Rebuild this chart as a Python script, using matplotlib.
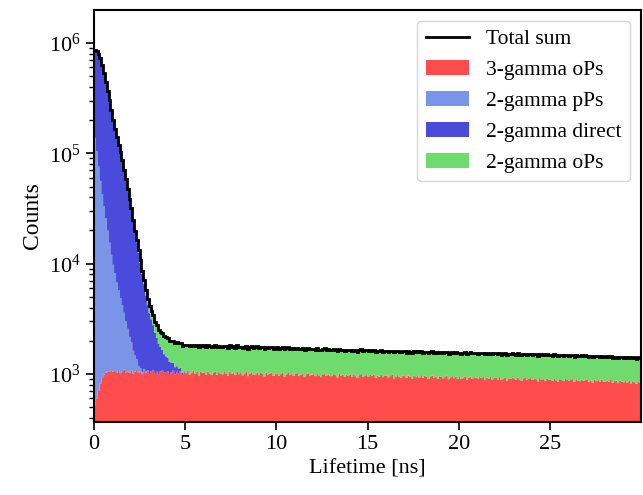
import matplotlib
matplotlib.use("Agg")
import matplotlib.pyplot as plt
import numpy as np

plt.rcParams['font.family'] = ['Liberation Serif', 'DejaVu Serif']
plt.rcParams['mathtext.fontset'] = 'stix'

# bin edges: 0.1 ns bins from 0 to 30 ns
bin_edges = np.linspace(0, 30, 301)

# 3-gamma oPs (all 300 bins, one row per ns)
three_gamma_ops = [
    520, 600, 700, 820, 920, 990, 1030, 1050, 1040, 1065,
    1045, 1080, 1020, 1065, 1015, 1060, 1090, 1025, 1050, 1030,
    1070, 1010, 1050, 1085, 1025, 1045, 995, 1075, 1030, 1060,
    1020, 1060, 1080, 1005, 1045, 985, 1055, 1075, 1025, 1040,
    1050, 1000, 1035, 1070, 990, 1045, 1020, 1060, 975, 1035,
    1015, 1055, 985, 1030, 1065, 1005, 1040, 970, 1045, 1025,
    1035, 985, 1050, 1000, 975, 1030, 1050, 980, 1020, 1000,
    990, 1040, 1010, 965, 1045, 1000, 1025, 975, 1050, 995,
    1020, 970, 1010, 1040, 955, 1005, 1030, 980, 990, 1030,
    975, 1020, 1000, 950, 1030, 985, 1010, 1025, 960, 995,
    1010, 965, 995, 1025, 945, 990, 1020, 975, 1005, 960,
    1000, 1020, 960, 985, 1010, 940, 995, 1015, 965, 985,
    995, 955, 1010, 970, 935, 990, 1005, 960, 985, 955,
    955, 995, 975, 930, 1000, 965, 985, 940, 980, 960,
    980, 940, 990, 955, 925, 975, 995, 945, 965, 975,
    940, 980, 960, 985, 920, 965, 945, 980, 935, 970,
    965, 930, 955, 980, 910, 950, 975, 935, 925, 960,
    955, 920, 965, 945, 905, 960, 935, 955, 925, 975,
    920, 960, 940, 900, 950, 965, 920, 945, 905, 950,
    945, 910, 935, 960, 895, 930, 955, 915, 940, 905,
    935, 900, 925, 950, 885, 920, 945, 905, 935, 925,
    900, 935, 915, 945, 880, 925, 905, 935, 890, 915,
    920, 890, 935, 880, 910, 930, 870, 910, 900, 920,
    910, 880, 925, 890, 865, 910, 920, 880, 900, 915,
    880, 910, 895, 855, 915, 885, 900, 870, 905, 890,
    895, 865, 905, 875, 850, 895, 885, 860, 900, 880,
    865, 895, 880, 845, 895, 870, 860, 885, 865, 890,
    880, 850, 870, 835, 885, 860, 875, 845, 885, 855,
    850, 870, 845, 880, 830, 860, 870, 825, 865, 850,
    840, 860, 835, 865, 820, 855, 840, 815, 855, 835,
]

# 2-gamma pPs (first bins, zero afterwards)
two_gamma_pps = [
    137500, 104100, 75200, 55400, 41800, 32100, 24700, 18900, 14450, 10960,
    8720, 7080, 5710, 4700, 3850, 3120, 2500, 1970, 1520, 1140,
    860, 615, 435, 273, 157, 77, 50, 35, 25, 15,
]

# 2-gamma direct (first bins, zero afterwards)
two_gamma_direct = [
    722600, 735900, 717600, 667300, 587700, 503400, 420700, 346500, 285900, 232400,
    189650, 157300, 133700, 113700, 96800, 81340, 66660, 55290, 44740, 36120,
    29100, 22850, 17880, 14290, 11400, 8980, 7020, 5405, 4085, 3135,
    2530, 2070, 1690, 1350, 1075, 885, 700, 575, 485, 405,
    345, 285, 230, 195, 160, 130, 100, 75, 45, 20,
    15, 10, 5,
]

# 2-gamma oPs (all 300 bins)
two_gamma_ops = [
    350, 420, 480, 520, 550, 560, 565, 570, 575, 580,
    580, 585, 585, 585, 585, 590, 590, 590, 590, 590,
    590, 595, 595, 595, 595, 595, 595, 600, 600, 600,
    600, 610, 620, 630, 640, 650, 665, 680, 690, 700,
    715, 725, 735, 745, 760, 770, 775, 780, 785, 790,
    790, 780, 795, 785, 775, 790, 785, 780, 790, 778,
    780, 770, 765, 778, 772, 768, 780, 765, 775, 770,
    768, 755, 765, 760, 770, 752, 762, 758, 765, 755,
    750, 758, 745, 752, 740, 755, 748, 742, 750, 745,
    742, 735, 745, 730, 740, 738, 728, 742, 735, 732,
    730, 722, 728, 718, 725, 720, 730, 715, 722, 718,
    715, 708, 712, 705, 715, 710, 700, 712, 706, 710,
    700, 695, 702, 690, 698, 692, 700, 688, 696, 694,
    688, 680, 686, 678, 690, 682, 676, 686, 680, 684,
    675, 668, 672, 662, 670, 666, 674, 664, 668, 665,
    662, 658, 665, 655, 662, 660, 655, 664, 658, 660,
    656, 650, 658, 648, 655, 652, 650, 657, 648, 654,
    650, 644, 648, 640, 650, 645, 642, 650, 644, 646,
    642, 636, 644, 635, 640, 638, 634, 642, 636, 640,
    635, 630, 636, 628, 634, 630, 628, 635, 630, 632,
    628, 622, 628, 620, 626, 624, 620, 628, 622, 626,
    624, 618, 622, 616, 624, 620, 618, 624, 618, 622,
    620, 614, 618, 612, 618, 615, 612, 620, 614, 616,
    615, 610, 614, 608, 614, 610, 608, 615, 610, 612,
    610, 606, 610, 604, 610, 606, 604, 610, 606, 608,
    605, 600, 604, 598, 604, 600, 598, 605, 600, 602,
    596, 590, 594, 588, 594, 590, 588, 595, 590, 592,
    585, 580, 584, 578, 584, 580, 578, 585, 580, 582,
    575, 570, 574, 568, 574, 570, 568, 575, 570, 572,
    565, 560, 562, 558, 564, 560, 556, 562, 558, 555,
]

labels = ["3-gamma oPs", "2-gamma pPs", "2-gamma direct", "2-gamma oPs"]
colors = ["#ff4d4d", "#7a95e8", "#4a4adb", "#6fdb6f"]

n = len(bin_edges) - 1
def full(vals):
    arr = np.zeros(n)
    arr[:len(vals)] = vals
    return arr

layers = [full(three_gamma_ops), full(two_gamma_pps), full(two_gamma_direct), full(two_gamma_ops)]

fig = plt.figure(figsize=(6.43, 4.95), dpi=100)
ax = fig.add_axes([0.1462, 0.1475, 0.8507, 0.8323])

bottom = np.full(n, 1.0)
for vals, lab, col in zip(layers, labels, colors):
    top = bottom + vals
    ax.stairs(top, bin_edges, baseline=bottom, fill=True, color=col, label=lab, lw=0)
    bottom = top

total = sum(layers)
ax.stairs(total, bin_edges, baseline=None, color='black', lw=2, label='Total sum')

ax.set_yscale('log')
ax.set_xlim(0, 30)
ax.set_ylim(367, 1.99e6)
ax.set_xticks([0, 5, 10, 15, 20, 25])
ax.set_xlabel('Lifetime [ns]', fontsize=16)
ax.set_ylabel('Counts', fontsize=17)
ax.tick_params(labelsize=16, width=1.2, length=6)
ax.tick_params(which='minor', width=1.0, length=3.5)
for s in ax.spines.values():
    s.set_linewidth(1.5)

handles, labs = ax.get_legend_handles_labels()
order = [4, 0, 1, 2, 3]
ax.legend([handles[i] for i in order], [labs[i] for i in order], loc='upper right', fontsize=15.5)

fig.savefig('out.png', dpi=100)
